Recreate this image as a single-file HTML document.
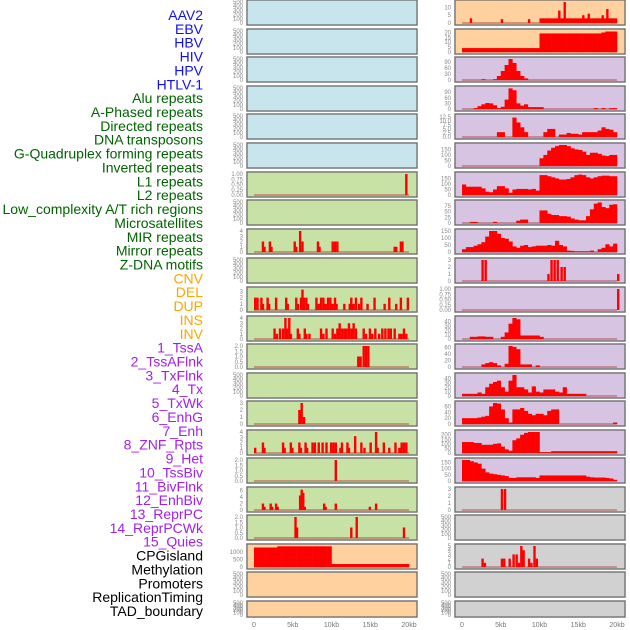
<!DOCTYPE html>
<html><head><meta charset="utf-8"><style>
body{margin:0;background:#fff;width:630px;height:630px;overflow:hidden;font-family:"Liberation Sans",sans-serif}
svg{display:block}
</style></head><body>
<svg id="chart" width="630" height="630" viewBox="0 0 630 630" xmlns="http://www.w3.org/2000/svg"></svg>
<script>
// ---- labels ----
const labelNames=["AAV2","EBV","HBV","HIV","HPV","HTLV-1","Alu repeats","A-Phased repeats","Directed repeats","DNA transposons","G-Quadruplex forming repeats","Inverted repeats","L1 repeats","L2 repeats","Low_complexity A/T rich regions","Microsatellites","MIR repeats","Mirror repeats","Z-DNA motifs","CNV","DEL","DUP","INS","INV","1_TssA","2_TssAFlnk","3_TxFlnk","4_Tx","5_TxWk","6_EnhG","7_Enh","8_ZNF_Rpts","9_Het","10_TssBiv","11_BivFlnk","12_EnhBiv","13_ReprPC","14_ReprPCWk","15_Quies","CPGisland","Methylation","Promoters","ReplicationTiming","TAD_boundary"];
const labelGroups=[6,13,5,15,5];
const groupColors=["#1010ee","#006400","#ffa500","#a020f0","#000000"];
const xTickLabels=["0","5kb","10kb","15kb","20kb"];
const xTickKb=[0,5,10,15,20];

// ---- right-column dense series (40 bins of 0.5kb, 0..20kb) ----
const aav2Dense=[0,0,0,0,0,0,0,0,0,0,0,0,0,0,0,0,0,0,0,0,3,3,3,3,3,3,3,3,3,3,3,3,3,3,3,3,3,3,3,3];
const aav2Spikes=[[1,3],[5,2.5],[8.5,2.5],[12.4,8],[13.1,13.5],[15.5,5],[16.2,6],[18,5],[18.6,9]];
const ebvDense=[4,4,4,4,4,4,4,4,4,4,4,4,4,4,4,4,4,4,4,4,19,19,19,19,19,19,19,19,19,19,19,19,19,19,19,19,20,21,21,21];
const hivDense=[0,0,0,0,0,4,0,0,4,20,45,75,105,85,45,20,8,0,0,0,0,0,0,0,0,0,0,0,0,0,0,0,0,0,0,0,0,0,0,0];
const hpvDense=[0,0,0,5,15,25,32,30,20,5,12,50,110,100,30,18,25,10,10,10,10,0,0,0,0,0,0,0,0,0,0,0,0,0,5,0,5,0,5,5];
const htlvDense=[0,0,0,0,0,0,0,0,0,3,3,0,0,12,9,6,3,0,0,0,0,3,5,5,0,1.5,1.5,2.5,2,2,1.5,3,3,3,3,4,6,5,4.5,3];
const gquadDense=[0,0,0,0,0,0,0,0,0,0,0,0,0,0,0,0,0,0,0,0,70,100,140,165,180,190,190,180,160,150,145,130,100,120,120,110,95,90,100,100];
const invDense=[95,75,75,75,75,60,30,25,50,80,80,60,20,50,55,55,55,50,55,40,180,180,170,160,150,140,140,145,160,180,185,180,160,150,160,170,175,175,170,170];
const lowcDense=[0,0,5,5,0,0,0,0,5,0,0,0,0,0,10,15,15,0,0,0,55,55,40,35,35,30,30,28,20,15,12,12,30,60,85,90,70,65,80,82];
const mirDense=[20,35,35,45,55,70,110,150,150,130,100,95,75,40,30,45,50,35,40,45,45,45,50,45,80,50,40,10,8,5,5,5,5,10,0,20,30,55,40,60];
const mirrorSpikes=[[2.5,3],[2.9,3],[11,1],[11.4,3],[11.8,3],[12.2,3],[12.7,2],[13.1,2],[20,1]];
const r11Spikes=[[20,1]];
const r12Dense=[0,0,5,5,6,6,5,5,0,0,5,15,35,48,45,8,8,8,8,8,5,0,0,0,0,0,0,0,0,0,0,0,0,0,0,0,0,0,0,0];
const r13Dense=[0,0,0,0,0,8,12,15,12,5,0,10,65,62,55,8,8,8,0,5,0,0,0,0,0,0,0,0,0,0,0,0,0,0,0,0,0,0,0,0];
const r14Dense=[5,5,5,5,8,5,20,28,32,35,20,10,35,48,20,20,15,8,22,10,8,15,15,15,10,8,20,5,5,5,5,5,0,0,0,0,0,0,0,0];
const r15Dense=[20,20,20,20,22,25,28,60,72,70,50,20,5,50,50,55,45,35,30,35,35,30,45,50,50,0,0,0,0,0,0,0,0,0,0,0,0,0,0,5];
const r16Dense=[120,120,120,110,110,90,90,90,100,105,70,40,25,140,160,200,220,230,230,230,10,10,10,20,20,20,20,20,20,20,20,20,20,20,20,20,20,20,20,20];
const r17Dense=[170,170,160,150,140,100,70,60,55,50,45,40,25,25,30,30,30,30,30,25,45,45,45,45,45,45,45,45,45,45,45,45,35,30,28,28,28,25,20,10];
const r18Spikes=[[5,3],[5.4,3]];
const r20Spikes=[[2.5,2],[2.8,1],[5,2],[5.3,2],[6,2],[6.5,3],[6.9,3],[7.2,1],[7.5,5],[7.8,4],[8.5,2],[8.8,1],[9.2,5],[9.5,2]];

// ---- left-column series ----
const l7Spikes=[[19.5,1]];
const l9Spikes=[[1,2],[1.2,1],[1.9,2],[2.1,1],[5.1,2],[5.3,1],[5.8,4],[6.1,2],[8.1,2],[8.3,1],[10,2],[10.3,2],[10.6,2],[18,1],[18.2,1],[18.8,2],[19,2]];
const l11Spikes=[[0,2],[0.3,2],[0.8,2],[1,1],[1.6,2],[1.8,1],[2.7,2],[4,2],[4.2,1],[5.3,2],[5.5,1],[5.9,2],[6.1,3.3],[6.3,2],[6.6,2],[6.8,1],[7.9,2],[8.2,1],[8.5,2],[8.8,2],[9.1,1],[9.4,2],[9.7,2],[10,1],[10.3,2],[10.5,1],[11.5,1],[12.2,1],[12.4,2],[12.7,1],[13,2],[13.4,1],[13.7,2],[14.5,1],[15.4,2],[16.7,1],[17.3,2],[18.2,1],[18.8,2],[19.7,2]];
const l12Spikes=[[2.5,2],[2.8,1],[3.2,2],[3.6,2],[3.9,4],[4.1,2],[4.4,4],[4.6,1],[5.5,2],[5.7,1],[6.4,2],[6.6,1],[7,1],[8.5,2],[8.8,1],[9.2,2],[10,2],[10.3,1],[10.6,2],[10.9,3],[11.2,2],[11.5,2],[11.8,2],[12.1,3],[12.4,2],[12.7,3],[13,2],[14,2],[14.3,1],[14.8,2],[15.1,1],[15.5,2],[16,1],[16.4,2],[16.8,2],[17.2,2],[17.5,2],[18,2],[18.6,1],[18.9,1],[19.2,2],[19.5,1]];
const l13Spikes=[[13.3,1],[13.6,1],[14,2],[14.3,2],[14.6,2]];
const l15Spikes=[[5.7,2],[6,3],[6.3,1]];
const l16Spikes=[[0,1],[1,2],[1.2,1],[3.6,2],[3.8,1],[4.6,2],[4.8,1],[5.7,2],[5.9,1],[6.5,2],[6.7,1],[7.4,2],[7.7,2],[8.2,2],[8.7,2],[9.2,2],[9.8,2],[10.1,2],[10.4,2],[11,1],[11.2,2],[11.9,2],[12.1,1],[12.9,3.2],[13.7,2],[14.1,1],[14.9,2],[15.6,4],[15.8,1],[16.6,2],[17.3,1],[18.1,2],[18.6,1],[18.9,2],[19.2,2],[19.5,2]];
const l17Spikes=[[10.4,2]];
const l18Spikes=[[1,2],[1.2,1],[2,2],[2.2,1],[2.7,2],[2.9,1],[5.8,4.5],[6,6.3],[6.2,5.3],[6.4,1],[8.9,2],[9.1,1],[10.4,2],[14.8,1],[15.6,2]];
const l19Spikes=[[5.2,2],[5.4,1],[12.4,1],[13.1,2],[19.2,1]];
const methylDense=[1300,1300,1300,1300,1300,1300,1380,1380,1380,1380,1380,1380,1380,1380,1380,1380,1380,1380,1380,1380,200,200,200,200,200,200,200,200,200,200,200,200,200,200,200,200,200,200,200,200];

// ---- layout ----
const rowTops=[0,29,57,86,114,143,172,200,229,258,287,316,344,373,401,430,458,487,515,544,572,601];
const BG={b:"#c8e4ec",o:"#fed19e",p:"#d6c4e2",g:"#c8e1a5",s:"#d1d1d1"};
const EMPTY=[0,100,200,300,400,500];
const T=(a,f)=>a.map(v=>({v:v,t:f?v.toFixed(f):String(v)}));
const left=[
 {bg:"b"},{bg:"b"},{bg:"b"},{bg:"b"},{bg:"b"},{bg:"b"},
 {bg:"g",max:1,ticks:T([0,.25,.5,.75,1],2),spikes:l7Spikes},
 {bg:"g"},
 {bg:"g",max:4,ticks:T([0,1,2,3,4]),spikes:l9Spikes},
 {bg:"g"},
 {bg:"g",max:3.4,ticks:T([0,1,2,3]),spikes:l11Spikes},
 {bg:"g",max:4,ticks:T([0,1,2,3,4]),spikes:l12Spikes},
 {bg:"g",max:2,ticks:T([0,.5,1,1.5,2],1),spikes:l13Spikes},
 {bg:"g"},
 {bg:"g",max:3,ticks:T([0,1,2,3]),spikes:l15Spikes},
 {bg:"g",max:4,ticks:T([0,1,2,3,4]),spikes:l16Spikes},
 {bg:"g",max:2,ticks:T([0,.5,1,1.5,2],1),spikes:l17Spikes},
 {bg:"g",max:6.5,ticks:T([0,2,4,6]),spikes:l18Spikes},
 {bg:"g",max:2,ticks:T([0,.5,1,1.5,2],1),spikes:l19Spikes},
 {bg:"o",max:1400,ticks:T([0,500,1000]),dense:methylDense},
 {bg:"o"},{bg:"o"}
];
const right=[
 {bg:"o",max:13.5,ticks:T([0,5,10]),dense:aav2Dense,spikes:aav2Spikes},
 {bg:"o",max:21.5,ticks:T([0,5,10,15,20]),dense:ebvDense},
 {bg:"p",max:105,ticks:T([0,30,60,90]),dense:hivDense},
 {bg:"p",max:112,ticks:T([0,30,60,90]),dense:hpvDense},
 {bg:"p",max:13,ticks:T([0,2.5,5,7.5,10,12.5],1),dense:htlvDense},
 {bg:"p",max:190,ticks:T([0,50,100,150]),dense:gquadDense},
 {bg:"p",max:190,ticks:T([0,50,100,150]),dense:invDense},
 {bg:"p",max:92,ticks:T([0,25,50,75]),dense:lowcDense},
 {bg:"p",max:150,ticks:T([0,50,100,150]),dense:mirDense},
 {bg:"p",max:3,ticks:T([0,1,2,3]),spikes:mirrorSpikes},
 {bg:"p",max:1,ticks:T([0,.25,.5,.75,1],2),spikes:r11Spikes},
 {bg:"p",max:48,ticks:T([0,10,20,30,40]),dense:r12Dense},
 {bg:"p",max:65,ticks:T([0,20,40,60]),dense:r13Dense},
 {bg:"p",max:48,ticks:T([0,10,20,30,40]),dense:r14Dense},
 {bg:"p",max:72,ticks:T([0,20,40,60]),dense:r15Dense},
 {bg:"p",max:230,ticks:T([0,50,100,150,200]),dense:r16Dense},
 {bg:"p",max:170,ticks:T([0,50,100,150]),dense:r17Dense},
 {bg:"s",max:3,ticks:T([0,1,2,3]),spikes:r18Spikes},
 {bg:"s"},
 {bg:"s",max:5,ticks:T([0,1,2,3,4,5]),spikes:r20Spikes},
 {bg:"s"},{bg:"s"}
];

const svg=document.getElementById('chart');
const NS="http://www.w3.org/2000/svg";
function mk(tag,attrs,parent){const e=document.createElementNS(NS,tag);for(const k in attrs)e.setAttribute(k,attrs[k]);(parent||svg).appendChild(e);return e;}

// labels
let li=0;
labelGroups.forEach((n,g)=>{for(let k=0;k<n;k++){
 const y=15+li*(596/43);
 const t=mk('text',{x:203,y:y+5,'text-anchor':'end','font-size':'14',fill:groupColors[g]});
 
 
 t.textContent=labelNames[li];li++;}});

function drawPanel(p,x0,top,h,col){
 const g=mk('g',{});
 
 
 mk('rect',{x:x0-1,y:top-1,width:172,height:h+2,fill:'#e4e4e4'},g);
 mk('rect',{x:x0,y:top,width:170,height:h,fill:BG[p.bg],stroke:'#666',"stroke-width":1.2},g);
 const xs=kb=>x0+7+kb*7.75;
 const y0=top+h-2, yTop=top+2;
 const max=p.max||500;
 const ys=v=>y0-(v/max)*(y0-yTop);
 const ticks=p.ticks||T(EMPTY);
 ticks.forEach(tk=>{const t=mk('text',{x:x0-4,y:ys(tk.v)+2,'text-anchor':'end','font-size':'6',fill:'#888'},g);
  
  
  t.textContent=tk.t;});
 if(p.dense||p.spikes){
  mk('line',{x1:xs(0),x2:xs(20),y1:y0,y2:y0,stroke:'#b04040','stroke-opacity':0.6,'stroke-width':1.5},g);
 }
 if(p.dense){p.dense.forEach((v,i)=>{if(v<=0)return;
  const r=mk('rect',{x:xs(i*0.5),y:ys(v),width:xs(i*0.5+0.5)-xs(i*0.5)+0.3,height:y0-ys(v),fill:'#ff0000'},g);
  
  });}
 if(p.spikes){p.spikes.forEach(s=>{
  const r=mk('rect',{x:xs(s[0]),y:ys(s[1]),width:2.4,height:y0-ys(s[1]),fill:'#ff0000'},g);
  
  });}
}
rowTops.forEach((top,i)=>{
 const h=i===rowTops.length-1?16:25;
 drawPanel(left[i],247,top,h,'left');
 drawPanel(right[i],455,top,h,'right');
});
// x axes
[247,455].forEach(x0=>{xTickKb.forEach((kb,i)=>{
 const t=mk('text',{x:x0+7+kb*7.75,y:627,'text-anchor':'middle','font-size':'7',fill:'#777'});
 
 
 t.textContent=xTickLabels[i];});});
</script>
</body></html>
